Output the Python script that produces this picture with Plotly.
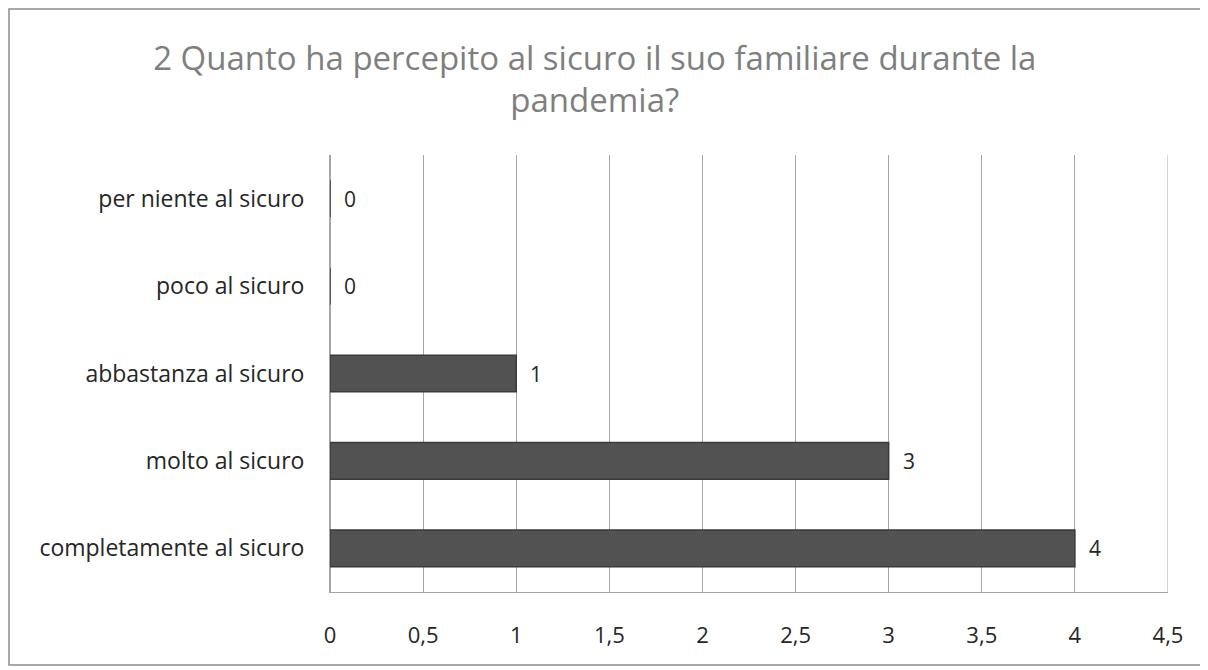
import plotly.graph_objects as go

categories = ["completamente al sicuro", "molto al sicuro", "abbastanza al sicuro",
              "poco al sicuro", "per niente al sicuro"]
values = [4, 3, 1, 0, 0]
tick_vals = [0, 0.5, 1, 1.5, 2, 2.5, 3, 3.5, 4, 4.5]
tick_text = ["0", "0,5", "1", "1,5", "2", "2,5", "3", "3,5", "4", "4,5"]
title_text = "2 Quanto ha percepito al sicuro il suo familiare durante la<br>pandemia?"

FONT = "Open Sans"
W, H = 1200, 662
L, T = 322, 147
R, B = 1200 - 1160, 662 - 584
pw, ph = W - L - R, H - T - B

fig = go.Figure()
fig.add_trace(go.Bar(
    y=categories, x=values, orientation="h", width=0.42,
    marker=dict(color="#525252", line=dict(color="#3a3a3a", width=1.5)),
    cliponaxis=False, hoverinfo="x+y",
))

for c, v in zip(categories, values):
    fig.add_annotation(x=v, y=c, xref="x", yref="y", text=str(v), showarrow=False,
                       xanchor="left", xshift=12,
                       font=dict(family=FONT, size=21, color="#262626"))

def px(x):
    return (x - L) / pw

def py(y):
    return (H - B - y) / ph

fig.add_shape(type="rect", xref="paper", yref="paper",
              x0=px(1), x1=px(1196), y0=py(657), y1=py(1),
              line=dict(color="#8c8c8c", width=1.5), layer="below")

fig.update_layout(
    width=W, height=H,
    margin=dict(l=L, r=R, t=T, b=B),
    paper_bgcolor="white", plot_bgcolor="white",
    showlegend=False,
    title=dict(text=title_text, x=0.489, xanchor="center", y=0.907, yanchor="middle",
               xref="container", yref="container",
               font=dict(family=FONT, size=33, color="#7f7f7f")),
    xaxis=dict(range=[0, 4.5], tickvals=tick_vals, ticktext=tick_text,
               showgrid=True, gridcolor="#a6a6a6", gridwidth=1,
               zeroline=True, zerolinecolor="#a6a6a6", zerolinewidth=1,
               showline=True, linecolor="#a6a6a6", linewidth=1, mirror=False,
               ticks="", ticklabelstandoff=24,
               tickfont=dict(family=FONT, size=22, color="#262626")),
    yaxis=dict(categoryorder="array", categoryarray=categories,
               showgrid=False, showline=True, linecolor="#a6a6a6", linewidth=1,
               ticks="", ticklabelstandoff=20,
               tickfont=dict(family=FONT, size=23, color="#262626")),
)
fig.add_shape(type="line", xref="x", yref="paper", x0=4.5, x1=4.5, y0=0, y1=1,
              line=dict(color="#a6a6a6", width=1))
fig.write_html("out.html")
